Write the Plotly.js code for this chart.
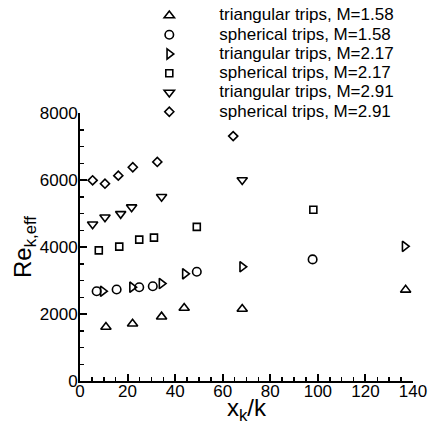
<!DOCTYPE html>
<html>
<head>
<meta charset="utf-8">
<script src="https://cdn.plot.ly/plotly-3.0.1.min.js"></script>
<style>
  html, body { margin: 0; padding: 0; background: #fff; }
  #chart { width: 430px; height: 425px; }
</style>
</head>
<body>
<div id="chart"></div>
<script>
// Effective roughness Reynolds number versus trip distance, per trip type and Mach number
const triM158_x = [10.9, 22.1, 34.3, 43.8, 68.2, 136.9];
const triM158_y = [1610, 1710, 1920, 2180, 2150, 2720];

const sphM158_x = [7.0, 15.4, 24.9, 30.6, 49.1, 97.8];
const sphM158_y = [2680, 2730, 2800, 2830, 3260, 3630];

const triM217_x = [9.6, 21.9, 34.3, 44.1, 68.2, 136.5];
const triM217_y = [2680, 2800, 2910, 3200, 3410, 4020];

const sphM217_x = [7.9, 16.5, 24.9, 31.1, 49.1, 98.1];
const sphM217_y = [3900, 4010, 4220, 4280, 4600, 5110];

const triM291_x = [5.3, 10.5, 17.1, 21.7, 34.3, 68.2];
const triM291_y = [4680, 4890, 4990, 5190, 5500, 6000];

const sphM291_x = [5.3, 10.5, 16.1, 22.2, 32.5, 64.4];
const sphM291_y = [5990, 5890, 6130, 6380, 6540, 7310];

const seriesNames = [
  'triangular trips, M=1.58',
  'spherical trips, M=1.58',
  'triangular trips, M=2.17',
  'spherical trips, M=2.17',
  'triangular trips, M=2.91',
  'spherical trips, M=2.91'
];

const FONT = 'Liberation Sans, Arial, Helvetica, sans-serif';

function series(x, y, name, symbol, size) {
  return {
    type: 'scatter',
    mode: 'markers',
    x: x,
    y: y,
    // larger display text inside a tighter legend row
    name: '<span style="font-size:17px">' + name + '</span>',
    marker: {
      symbol: symbol,
      size: size,
      color: '#000',
      line: { color: '#000', width: 1.6 }
    },
    cliponaxis: false,
    hoverinfo: 'x+y'
  };
}

const data = [
  series(triM158_x, triM158_y, seriesNames[0], 'triangle-up-open', 9),
  series(sphM158_x, sphM158_y, seriesNames[1], 'circle-open', 8.5),
  series(triM217_x, triM217_y, seriesNames[2], 'triangle-right-open', 9),
  series(sphM217_x, sphM217_y, seriesNames[3], 'square-open', 7),
  series(triM291_x, triM291_y, seriesNames[4], 'triangle-down-open', 9),
  series(sphM291_x, sphM291_y, seriesNames[5], 'diamond-open', 7)
];

const layout = {
  width: 430,
  height: 425,
  margin: { l: 80, r: 17, t: 113, b: 43.5, pad: 0, autoexpand: false },
  paper_bgcolor: '#fff',
  plot_bgcolor: '#fff',
  font: { family: FONT, size: 17, color: '#000' },
  showlegend: true,
  legend: {
    x: 0.118,
    xanchor: 'left',
    y: 1.4185,
    yanchor: 'top',
    bgcolor: 'rgba(0,0,0,0)',
    borderwidth: 0,
    itemwidth: 90,
    font: { family: FONT, size: 12.5, color: '#000' },
    itemclick: false,
    itemdoubleclick: false
  },
  xaxis: {
    range: [0, 140],
    dtick: 20,
    tick0: 0,
    ticks: 'inside',
    ticklen: 7,
    tickwidth: 2,
    tickcolor: '#000',
    minor: { dtick: 5, ticks: 'inside', ticklen: 4, tickwidth: 1.5, tickcolor: '#000' },
    showline: true,
    linewidth: 2,
    linecolor: '#000',
    showgrid: false,
    zeroline: false,
    ticklabelstandoff: -6,
    tickfont: { family: FONT, size: 17, color: '#000' },
    title: { text: 'x<sub>k</sub>/k', font: { family: FONT, size: 24, color: '#000' }, standoff: 12 }
  },
  yaxis: {
    range: [0, 8000],
    dtick: 2000,
    tick0: 0,
    ticks: 'inside',
    ticklen: 7,
    tickwidth: 2,
    tickcolor: '#000',
    minor: { dtick: 500, ticks: 'inside', ticklen: 4, tickwidth: 1.5, tickcolor: '#000' },
    showline: true,
    linewidth: 2,
    linecolor: '#000',
    showgrid: false,
    zeroline: false,
    ticklabelstandoff: -3,
    tickfont: { family: FONT, size: 17, color: '#000' },
    title: { text: 'Re<sub>k,eff</sub>', font: { family: FONT, size: 24, color: '#000' }, standoff: 1 }
  }
};

Plotly.newPlot('chart', data, layout, { displayModeBar: false, staticPlot: true });
</script>
</body>
</html>
